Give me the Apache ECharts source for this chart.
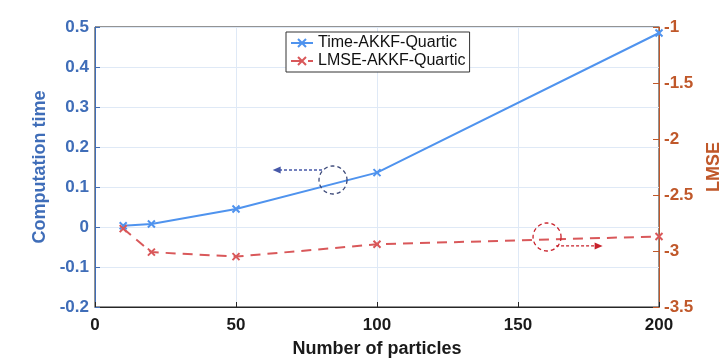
<!DOCTYPE html>
<html>
<head>
<meta charset="utf-8">
<script src="https://cdn.jsdelivr.net/npm/echarts@6/dist/echarts.min.js"></script>
<style>
html,body{margin:0;padding:0;background:#fff;}
#chart{width:728px;height:359px;}
</style>
</head>
<body>
<div id="chart"></div>
<script>
// ---- data ----
const particles = [10, 20, 50, 100, 200];
const timeValues = [0.003, 0.0075, 0.045, 0.136, 0.485];
const lmseValues = [-2.80, -3.01, -3.05, -2.94, -2.87];
const seriesNames = ['Time-AKKF-Quartic', 'LMSE-AKKF-Quartic'];
const xTicks = [0, 50, 100, 150, 200];
const leftTicks = [-0.2, -0.1, 0, 0.1, 0.2, 0.3, 0.4, 0.5];
const rightTicks = [-3.5, -3, -2.5, -2, -1.5, -1];
// annotation anchors in data coordinates
const timeCircle = [84.4, 0.1175];
const timeArrow = [[80.5, 0.1425], [63, 0.1425]];
const lmseCircle = [160.3, -2.875];
const lmseArrow = [[163.5, -2.955], [180, -2.955]];

const blueAxis = '#3f6db8';
const orangeAxis = '#c0582a';
const font = 'Liberation Sans, Arial, Helvetica, sans-serif';
const xSym = 'path://M0,0L10,10M10,0L0,10';

const chart = echarts.init(document.getElementById('chart'), null, {renderer: 'canvas'});
chart.setOption({
  animation: false,
  backgroundColor: '#fff',
  textStyle: {fontFamily: font},
  grid: {left: 95, right: 69, top: 27, bottom: 52, containLabel: false, outerBoundsMode: 'none',
    show: true, borderColor: '#262626', borderWidth: 1, backgroundColor: 'transparent'},
  legend: {
    left: 286, top: 32, orient: 'vertical', itemGap: 2, itemWidth: 22, itemHeight: 10,
    padding: [3, 4, 3, 4],
    backgroundColor: '#fff', borderColor: '#333', borderWidth: 1,
    textStyle: {fontSize: 16, color: '#111', fontFamily: font},
    data: seriesNames
  },
  xAxis: {
    type: 'value', min: xTicks[0], max: xTicks[xTicks.length - 1], interval: 50,
    name: 'Number of particles', nameLocation: 'middle', nameGap: 33,
    nameTextStyle: {fontSize: 18, color: '#1a1a1a', fontFamily: font, fontWeight: 'bold'},
    axisLine: {onZero: false, lineStyle: {color: '#262626', width: 1}},
    axisTick: {inside: true, length: 5, lineStyle: {color: '#262626'}},
    axisLabel: {fontSize: 17, color: '#1a1a1a', margin: 10, fontFamily: font, fontWeight: 'bold'},
    splitLine: {show: true, lineStyle: {color: '#dfe9f6', width: 1}}
  },
  yAxis: [{
    type: 'value', position: 'left', min: leftTicks[0], max: leftTicks[leftTicks.length - 1], interval: 0.1,
    name: 'Computation time', nameLocation: 'middle', nameGap: 41, nameRotate: 90,
    nameTextStyle: {fontSize: 18, color: blueAxis, fontFamily: font, fontWeight: 'bold'},
    axisLine: {show: true, onZero: false, lineStyle: {color: blueAxis, width: 1}},
    axisTick: {show: true, inside: true, length: 5, lineStyle: {color: blueAxis}},
    axisLabel: {fontSize: 17, color: blueAxis, margin: 6, fontFamily: font, fontWeight: 'bold',
      formatter: v => (Math.round(v * 10) / 10).toString()},
    splitLine: {show: true, lineStyle: {color: '#dfe9f6', width: 1}}
  }, {
    type: 'value', position: 'right', min: rightTicks[0], max: rightTicks[rightTicks.length - 1], interval: 0.5,
    name: 'LMSE', nameLocation: 'middle', nameGap: 46, nameRotate: 90,
    nameTextStyle: {fontSize: 18, color: orangeAxis, fontFamily: font, fontWeight: 'bold'},
    axisLine: {show: true, onZero: false, lineStyle: {color: orangeAxis, width: 1}},
    axisTick: {show: true, inside: true, length: 6, lineStyle: {color: orangeAxis}},
    axisLabel: {fontSize: 17, color: orangeAxis, margin: 5, fontFamily: font, fontWeight: 'bold',
      formatter: v => (Math.round(v * 10) / 10).toString()},
    splitLine: {show: false}
  }],
  series: [{
    name: seriesNames[0], type: 'line', yAxisIndex: 0,
    data: particles.map((p, i) => [p, timeValues[i]]),
    symbol: xSym, symbolSize: 7,
    lineStyle: {color: '#4f93ee', width: 2},
    itemStyle: {color: '#4f93ee', borderColor: '#4f93ee', borderWidth: 2}
  }, {
    name: seriesNames[1], type: 'line', yAxisIndex: 1,
    data: particles.map((p, i) => [p, lmseValues[i]]),
    symbol: xSym, symbolSize: 7,
    lineStyle: {color: '#d9585a', width: 2, type: [10, 7]},
    itemStyle: {color: '#d9585a', borderColor: '#d9585a', borderWidth: 2}
  }]
});

function px(pt, axis) {
  return chart.convertToPixel({xAxisIndex: 0, yAxisIndex: axis}, pt);
}
function arrow(a, b, color) {
  const dir = Math.sign(b[0] - a[0]);
  return [{
    type: 'line', shape: {x1: a[0], y1: a[1], x2: b[0] - dir * 6, y2: b[1]},
    style: {stroke: color, lineWidth: 1.3, lineDash: [3, 2]}, z: 10
  }, {
    type: 'polygon', shape: {points: [[b[0], b[1]], [b[0] - dir * 8, b[1] - 3.5], [b[0] - dir * 8, b[1] + 3.5]]},
    style: {fill: color}, z: 10
  }];
}
const tc = px(timeCircle, 0), ta0 = px(timeArrow[0], 0), ta1 = px(timeArrow[1], 0);
const lc = px(lmseCircle, 1), la0 = px(lmseArrow[0], 1), la1 = px(lmseArrow[1], 1);
chart.setOption({
  graphic: [
    {type: 'circle', shape: {cx: tc[0], cy: tc[1], r: 14}, style: {fill: 'none', stroke: '#3b4878', lineWidth: 1.3, lineDash: [4, 3]}, z: 10},
    ...arrow(ta0, ta1, '#4658a8'),
    {type: 'circle', shape: {cx: lc[0], cy: lc[1], r: 14}, style: {fill: 'none', stroke: '#c8202a', lineWidth: 1.3, lineDash: [4, 3]}, z: 10},
    ...arrow(la0, la1, '#c8202a')
  ]
});
</script>
</body>
</html>
